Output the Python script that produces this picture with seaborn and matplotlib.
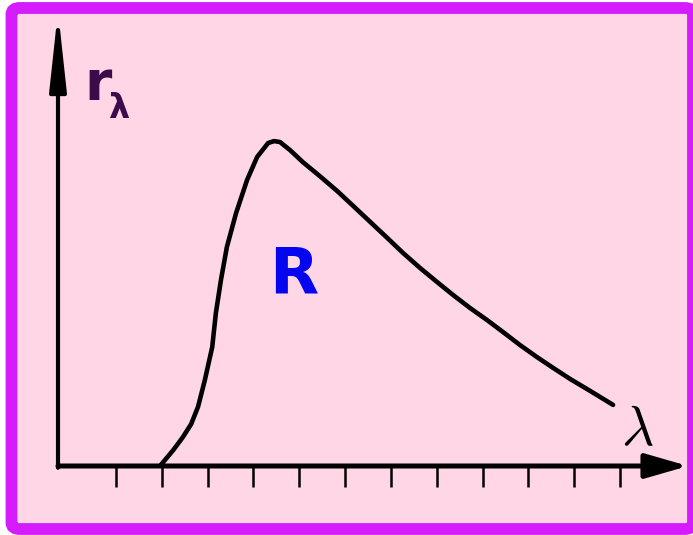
import numpy as np
import pandas as pd
import matplotlib.pyplot as plt
import seaborn as sns
from matplotlib.patches import FancyBboxPatch, ArrowStyle

# --------------------------------------------------------
# data (x in tick units, y relative to the peak)
# --------------------------------------------------------
wavelength = [1.96, 2.25, 2.46, 2.64, 2.79, 2.94, 3.10, 3.18, 3.29, 3.42, 3.62,
              3.86, 4.08, 4.32, 4.45, 4.58, 4.80, 5.08, 5.45, 5.83, 6.18,
              6.55, 6.92, 7.27, 7.64, 8.01, 8.36, 8.73, 9.10, 9.45, 9.82, 10.19,
              10.54, 10.91, 11.35, 11.85]
radiance = [0.0, 0.049, 0.089, 0.129, 0.182, 0.265, 0.366, 0.471, 0.572, 0.674, 0.778,
            0.880, 0.951, 0.994, 1.0, 0.997, 0.972, 0.935, 0.892, 0.846, 0.800,
            0.751, 0.702, 0.655, 0.609, 0.566, 0.526, 0.486, 0.449, 0.412, 0.372, 0.335,
            0.302, 0.268, 0.231, 0.188]
tick_positions = list(range(1, 13))

df = pd.DataFrame({"wavelength": wavelength, "radiance": radiance})

# --------------------------------------------------------
# figure + frame
# --------------------------------------------------------
sns.set_style("white")
plt.rcParams["font.family"] = ["DejaVu Sans"]

fig = plt.figure(figsize=(6.93, 5.35), dpi=100)
fig.patch.set_facecolor("white")

frame = FancyBboxPatch((11.5 / 693, 6 / 535), (693 - 11.5) / 693, (529 - 8) / 535,
                       boxstyle="round,pad=0,rounding_size=0.012",
                       transform=fig.transFigure, facecolor="#ffd6e6",
                       edgecolor="#d41cfc", linewidth=8.5, zorder=-1)
fig.add_artist(frame)

ax = fig.add_axes([58 / 693, (535 - 466) / 535, (680 - 58) / 693, (466 - 28) / 535])
ax.set_facecolor("none")

# the curve
sns.lineplot(data=df, x="wavelength", y="radiance", sort=False, ax=ax,
             color="black", linewidth=3.3, solid_capstyle="round",
             solid_joinstyle="round")

ax.set_xlim(-0.266, 13.31)
ax.set_ylim(0, 1.348)
ax.set_xlabel("")
ax.set_ylabel("")

for s in ax.spines.values():
    s.set_visible(False)

# ticks on the wavelength axis only
ax.set_xticks(tick_positions)
ax.set_xticklabels([])
ax.set_yticks([])
ax.tick_params(axis="x", direction="out", length=15, width=1.8, color="black", bottom=True)

# axis arrows (tips pushed a little out, the arrow style pulls them back)
ax.annotate("", xy=(1.013, 0.0), xytext=(0, 0.0), xycoords="axes fraction",
            arrowprops=dict(arrowstyle=ArrowStyle("-|>", head_length=26, head_width=7.5),
                            mutation_scale=1, lw=3.6, color="black",
                            shrinkA=0, shrinkB=0))
ax.annotate("", xy=(0, 1.039), xytext=(0, -0.004), xycoords="axes fraction",
            arrowprops=dict(arrowstyle=ArrowStyle("-|>", head_length=46, head_width=5),
                            mutation_scale=1, lw=3.0, color="black",
                            shrinkA=0, shrinkB=0))

# labels
ax.text(0.30, 1.126, "r", fontsize=40, fontweight="bold", color="#3c0b4b")
ax.text(0.82, 1.071, "λ", fontsize=24, fontweight="bold", color="#3c0b4b")
ax.text(12.38, 0.065, r"$\lambda$", fontsize=40, ha="center", math_fontfamily="cm",
        color="black")
ax.text(4.89, 0.532, "R", fontsize=46, fontweight="bold", ha="center", color="#0505f0")

fig.savefig("out.png", dpi=100)
